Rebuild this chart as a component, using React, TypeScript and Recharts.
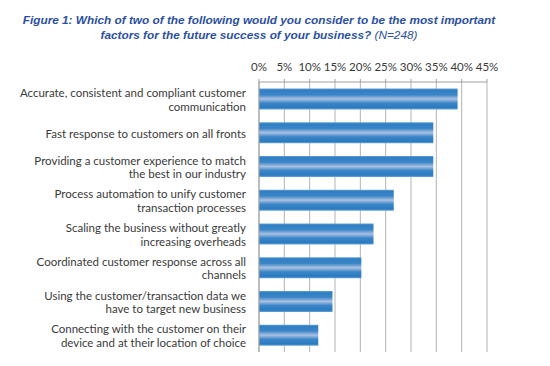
import { BarChart, Bar, XAxis, YAxis, CartesianGrid } from "recharts";

const factors = [
  "Accurate, consistent and compliant customer\ncommunication",
  "Fast response to customers on all fronts",
  "Providing a customer experience to match\nthe best in our industry",
  "Process automation to unify customer\ntransaction processes ",
  "Scaling the business without greatly\nincreasing overheads",
  "Coordinated customer response across all\nchannels",
  "Using the customer/transaction data we\nhave to target new business",
  "Connecting with the customer on their\ndevice and at their location of choice ",
];

const shares = [0.392, 0.344, 0.344, 0.266, 0.226, 0.202, 0.145, 0.117];

const pctTicks = [0, 0.05, 0.1, 0.15, 0.2, 0.25, 0.3, 0.35, 0.4, 0.45];

const data = factors.map((f, i) => ({ factor: f, share: shares[i] }));

const labelFont = "Lato, 'Open Sans', sans-serif";

function FactorTick(props: any) {
  const { x, y, payload } = props;
  const lines: string[] = String(payload.value).split("\n");
  const lh = 13.5;
  const y0 = y - ((lines.length - 1) * lh) / 2;
  return (
    <text
      x={x}
      y={y0}
      textAnchor="end"
      fill="#3a3a3a"
      fontSize={11.5}
      fontFamily={labelFont}
      dominantBaseline="central"
    >
      {lines.map((l, i) => (
        <tspan key={i} x={x} y={y0 + i * lh}>
          {l}
        </tspan>
      ))}
    </text>
  );
}

export default function App() {
  return (
    <div
      style={{
        position: "absolute",
        left: 0,
        top: 0,
        width: 550,
        height: 366,
        background: "#fff",
      }}
    >
      <div
        style={{
          position: "absolute",
          left: 0,
          width: 518,
          top: 13,
          textAlign: "center",
          fontFamily: "Arial, 'Liberation Sans', sans-serif",
          fontStyle: "italic",
          fontWeight: "bold",
          fontSize: 11.8,
          lineHeight: "14.5px",
          color: "#2c4fa3",
        }}
      >
        Figure 1: Which of two of the following would you consider to be the most important
        <br />
        factors for the future success of your business?{" "}
        <span style={{ fontWeight: "normal" }}>(N=248)</span>
      </div>
      <BarChart
        width={550}
        height={366}
        data={data}
        layout="vertical"
        margin={{ top: 62, right: 63, bottom: 14, left: 0 }}
        barCategoryGap="19%"
      >
        <defs>
          <linearGradient id="barGrad" x1="0" y1="0" x2="0" y2="1">
            <stop offset="0" stopColor="#6aa3d8" />
            <stop offset="0.08" stopColor="#2f7fc3" />
            <stop offset="0.3" stopColor="#3a85c7" />
            <stop offset="0.5" stopColor="#aac1e2" />
            <stop offset="0.7" stopColor="#3a85c7" />
            <stop offset="0.92" stopColor="#2b7bc0" />
            <stop offset="1" stopColor="#6aa3d8" />
          </linearGradient>
        </defs>
        <CartesianGrid horizontal={false} stroke="#b4b4b4" />
        <XAxis
          type="number"
          orientation="top"
          domain={[0, 0.45]}
          ticks={pctTicks}
          tickFormatter={(v: number) => `${Math.round(v * 100)}%`}
          axisLine={{ stroke: "#a0a0a0" }}
          tickLine={{ stroke: "#a0a0a0" }}
          tickSize={3}
          tickMargin={8}
          tick={{ fill: "#3a3a3a", fontSize: 11.5, fontFamily: labelFont }}
          height={20}
          interval={0}
        />
        <YAxis
          type="category"
          dataKey="factor"
          width={259}
          axisLine={{ stroke: "#a0a0a0" }}
          tickLine={false}
          tick={<FactorTick />}
          tickMargin={7}
          interval={0}
        />
        <Bar dataKey="share" fill="url(#barGrad)" isAnimationActive={false} />
      </BarChart>
    </div>
  );
}
